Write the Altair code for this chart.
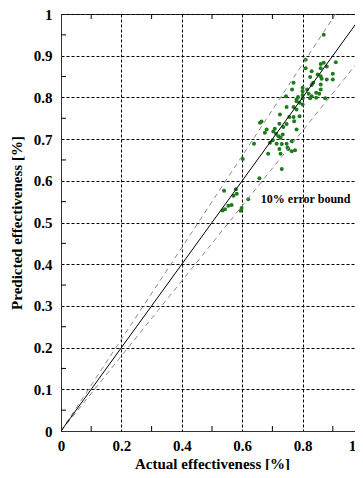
import altair as alt
import pandas as pd

# measured points (actual, predicted)
actual = [0.87, 0.81, 0.86, 0.87, 0.91, 0.86, 0.88, 0.81, 0.90, 0.83, 0.85, 0.86, 0.863, 0.825,
          0.88, 0.90, 0.835, 0.83, 0.86, 0.80, 0.77, 0.765, 0.80, 0.815, 0.86, 0.845, 0.82, 0.80,
          0.785, 0.745, 0.78, 0.80, 0.825, 0.845, 0.875, 0.83, 0.855, 0.78, 0.79, 0.80, 0.747,
          0.77, 0.78, 0.725, 0.77, 0.79, 0.756, 0.772, 0.664, 0.747, 0.736, 0.78, 0.681, 0.675,
          0.703, 0.712, 0.72, 0.734, 0.727, 0.701, 0.692, 0.714, 0.731, 0.747, 0.764, 0.753,
          0.764, 0.775, 0.75, 0.723, 0.727, 0.686, 0.731, 0.602, 0.657, 0.54, 0.579, 0.571,
          0.582, 0.62, 0.554, 0.565, 0.543, 0.535, 0.598, 0.595, 0.659, 0.723, 0.639, 0.708]
predicted = [0.95, 0.89, 0.88, 0.883, 0.884, 0.87, 0.874, 0.87, 0.857, 0.863, 0.855, 0.851, 0.845,
             0.849, 0.843, 0.843, 0.835, 0.83, 0.831, 0.823, 0.835, 0.819, 0.815, 0.819, 0.819,
             0.811, 0.809, 0.806, 0.801, 0.803, 0.795, 0.798, 0.798, 0.799, 0.798, 0.803, 0.809,
             0.791, 0.787, 0.783, 0.777, 0.777, 0.771, 0.759, 0.753, 0.755, 0.753, 0.743, 0.742,
             0.736, 0.729, 0.723, 0.723, 0.715, 0.718, 0.713, 0.707, 0.711, 0.703, 0.697, 0.691,
             0.689, 0.688, 0.689, 0.695, 0.676, 0.671, 0.673, 0.68, 0.676, 0.665, 0.665, 0.628,
             0.652, 0.606, 0.576, 0.58, 0.564, 0.569, 0.556, 0.54, 0.542, 0.532, 0.529, 0.535,
             0.528, 0.739, 0.737, 0.689, 0.725]

x_ticks = [0, 0.2, 0.4, 0.6, 0.8, 1]
y_ticks = [0, 0.1, 0.2, 0.3, 0.4, 0.5, 0.6, 0.7, 0.8, 0.9, 1]
x_minor = [0.1, 0.3, 0.5, 0.7, 0.9]
y_minor = [0.05, 0.15, 0.25, 0.35, 0.45, 0.55, 0.65, 0.75, 0.85, 0.95]

ref_x = [0, 1]
ideal_y = [0, 1]
upper_y = [0, 1.1]
lower_y = [0, 0.9]

note_x = [0.81]
note_y = [0.557]
note_text = ["10% error bound"]

FONT = "Liberation Serif"
W, H = 302, 417

xs = alt.Scale(domain=[0, 1], nice=False, zero=False)
ys = alt.Scale(domain=[0, 1], nice=False, zero=False)

pts = pd.DataFrame({"a": actual, "p": predicted})
ideal = pd.DataFrame({"a": ref_x, "p": ideal_y})
bounds = pd.DataFrame({"a": ref_x + ref_x, "p": upper_y + lower_y,
                       "s": ["upper"] * 2 + ["lower"] * 2})
xm = pd.DataFrame({"a": x_minor})
ym = pd.DataFrame({"p": y_minor})
note = pd.DataFrame({"a": note_x, "p": note_y, "t": note_text})

common_axis = dict(grid=True, gridDash=[3, 2], gridColor="black", gridOpacity=1, gridWidth=1,
                   ticks=False, domain=True, domainColor="#333333", domainWidth=1,
                   labelFont=FONT, labelFontWeight="bold", labelFontSize=15, labelColor="black",
                   labelFlush=False, labelOverlap=False, format="~g",
                   titleFont=FONT, titleFontWeight="bold", titleFontSize=15, titleColor="black")

x_axis = alt.Axis(values=x_ticks, labelPadding=7, title="Actual effectiveness [%]",
                  titleX=W / 2, titleY=32, titleBaseline="middle", titleAlign="center",
                  labelOffset={"condition": {"test": "datum.value == 1", "value": -11}, "value": 0},
                  **common_axis)
y_axis = alt.Axis(values=y_ticks, labelPadding=9, title="Predicted effectiveness [%]",
                  titleX=-45, titleY=H / 2, titleBaseline="middle", titleAlign="center",
                  titleAngle=270, **common_axis)

X = alt.X("a:Q", scale=xs, axis=x_axis)
Y = alt.Y("p:Q", scale=ys, axis=y_axis)

points = alt.Chart(pts).mark_circle(size=16, color="#1d7a1d", opacity=1).encode(x=X, y=Y)

ideal_line = alt.Chart(ideal).mark_line(color="black", strokeWidth=1, clip=True).encode(x=X, y=Y)

bound_lines = alt.Chart(bounds).mark_line(color="#8c8c8c", strokeWidth=1, strokeDash=[5, 4],
                                          clip=True).encode(x=X, y=Y, detail="s:N")

bottom_ticks = alt.Chart(xm).mark_rule(color="black", strokeWidth=1).encode(
    x=X, y=alt.value(H), y2=alt.value(H - 5))
top_ticks = alt.Chart(xm).mark_rule(color="black", strokeWidth=1).encode(
    x=X, y=alt.value(0), y2=alt.value(5))
left_ticks = alt.Chart(ym).mark_rule(color="black", strokeWidth=1).encode(
    y=Y, x=alt.value(0), x2=alt.value(5))

label = alt.Chart(note).mark_text(font=FONT, fontWeight="bold", fontSize=12, color="black",
                                  align="center", baseline="middle").encode(
    x=X, y=Y, text="t:N")

chart = alt.layer(points, bound_lines, ideal_line, bottom_ticks, top_ticks, left_ticks, label).properties(
    width=W, height=H,
    autosize=alt.AutoSizeParams(type="none"),
    padding={"left": 53, "top": 6, "right": -8, "bottom": 39},
).configure_view(stroke="#333333", strokeWidth=1)

chart.save("out.html", embed_options={"renderer": "svg", "actions": False})
